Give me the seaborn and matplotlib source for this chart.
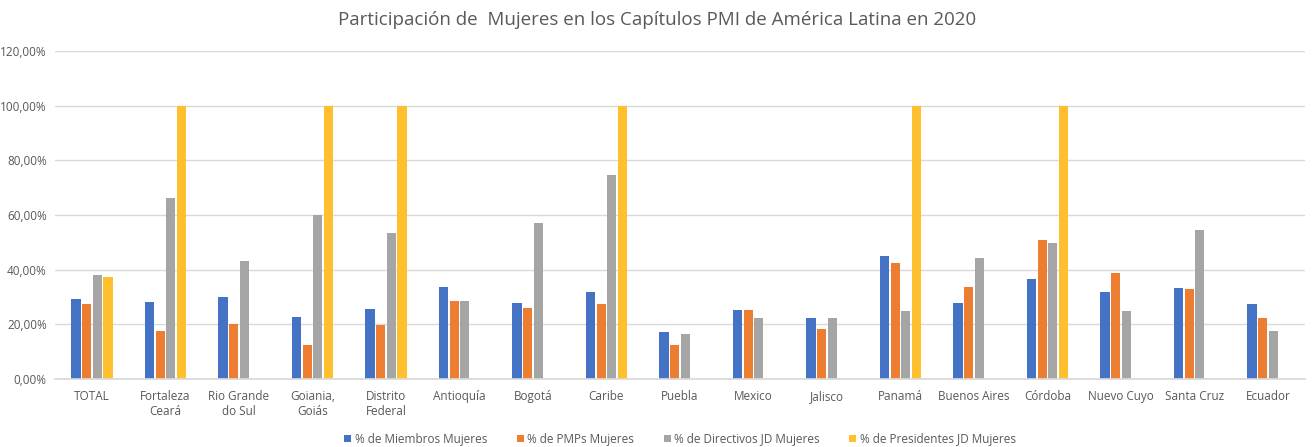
import numpy as np
import pandas as pd
import matplotlib
matplotlib.use("Agg")
import matplotlib.pyplot as plt
import seaborn as sns
from matplotlib.ticker import FuncFormatter

categories = ["TOTAL", "Fortaleza\nCeará", "Rio Grande\ndo Sul", "Goiania,\nGoiás",
              "Distrito\nFederal", "Antioquía", "Bogotá", "Caribe", "Puebla", "Mexico",
              "Jalisco", "Panamá", "Buenos Aires", "Córdoba", "Nuevo Cuyo", "Santa Cruz",
              "Ecuador"]
miembros = [29.3, 28.2, 30.0, 22.7, 25.6, 33.7, 27.8, 31.8, 17.2, 25.3, 22.3, 45.0, 27.8, 36.6, 32.0, 33.3, 27.5]
pmps = [27.5, 17.6, 20.0, 12.5, 19.8, 28.5, 26.0, 27.4, 12.5, 25.3, 18.3, 42.5, 33.7, 51.0, 38.8, 33.0, 22.3]
directivos = [38.1, 66.3, 43.2, 60.0, 53.5, 28.5, 57.1, 74.8, 16.5, 22.3, 22.3, 25.0, 44.4, 49.8, 25.0, 54.5, 17.6]
presidentes = [37.4, 100, 0, 100, 100, 0, 0, 100, 0, 0, 0, 100, 0, 100, 0, 0, 0]
series_names = ["% de Miembros Mujeres", "% de PMPs Mujeres",
                "% de Directivos JD Mujeres", "% de Presidentes JD Mujeres"]
colors = ["#4472C4", "#ED7D31", "#A5A5A5", "#FFC02E"]
title = "Participación de  Mujeres en los Capítulos PMI de América Latina en 2020"

rows = []
for name, vals in zip(series_names, [miembros, pmps, directivos, presidentes]):
    for c, v in zip(categories, vals):
        rows.append({"cat": c, "serie": name, "val": v})
df = pd.DataFrame(rows)

sns.set_theme(style="white")
plt.rcParams['font.family'] = ['Open Sans', 'DejaVu Sans']

fig = plt.figure(figsize=(13.14, 4.47), dpi=100)
ax = fig.add_axes([0.042, 0.152, 0.951, 0.734])

sns.barplot(data=df, x="cat", y="val", hue="serie", palette=colors,
            width=0.58, gap=0.14, ax=ax, order=categories, hue_order=series_names,
            errorbar=None, saturation=1, linewidth=0)

ax.set_ylim(0, 120)
ax.set_yticks(np.arange(0, 121, 20))
ax.yaxis.set_major_formatter(FuncFormatter(lambda v, p: f"{v:.2f}%".replace(".", ",")))
ax.grid(axis="y", color="#D9D9D9", linewidth=1)
ax.set_axisbelow(True)
for s in ["top", "right", "left"]:
    ax.spines[s].set_visible(False)
ax.spines["bottom"].set_color("#D9D9D9")
ax.tick_params(axis="both", length=0, labelsize=8.5, colors="#595959", pad=6)
ax.tick_params(axis="x", pad=8)
ax.set_xlim(-0.5, len(categories) - 0.5)
ax.set_xlabel("")
ax.set_ylabel("")

fig.suptitle(title, x=0.5, y=0.975, fontsize=13.5, color="#595959")

handles, labels = ax.get_legend_handles_labels()
ax.legend(handles, labels, loc="lower center", bbox_to_anchor=(0.5, -0.235),
          ncol=4, frameon=False, fontsize=8.5, handlelength=0.6, handleheight=0.6,
          handletextpad=0.3, columnspacing=2.5, labelcolor="#595959")

fig.savefig("out.png", dpi=100)
